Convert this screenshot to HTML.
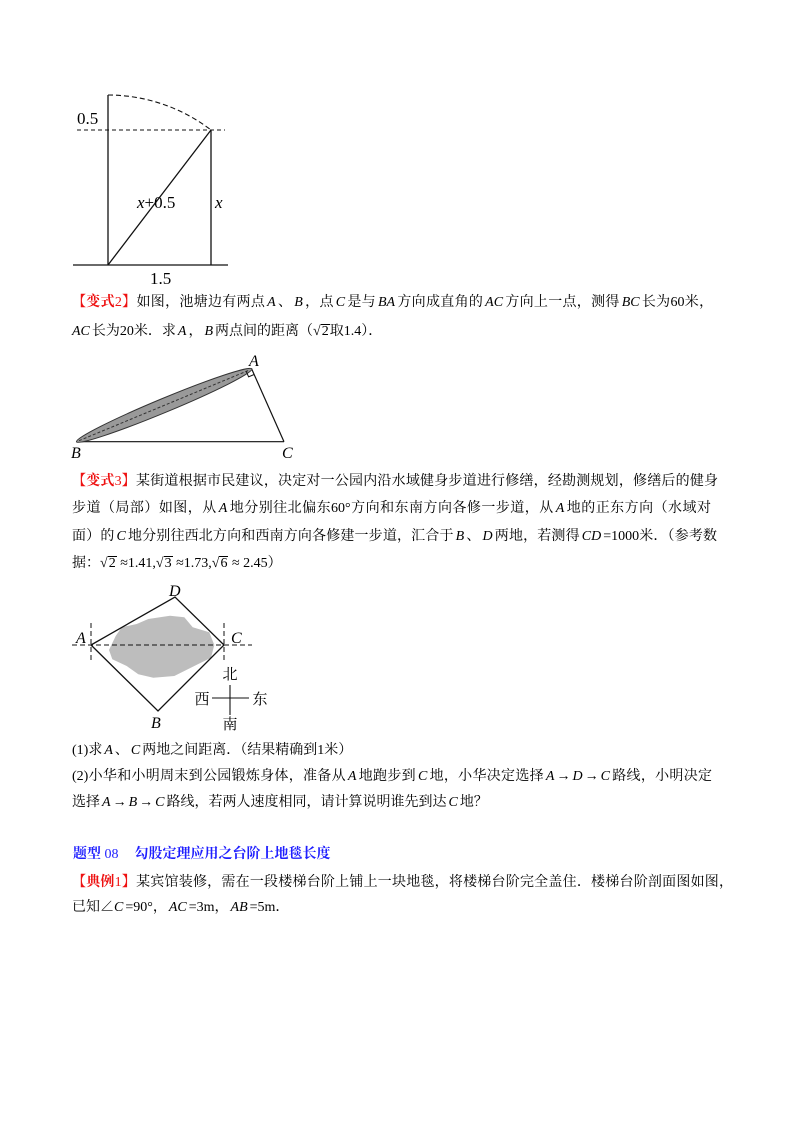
<!DOCTYPE html>
<html>
<head>
<meta charset="utf-8">
<style>
  html,body{margin:0;padding:0;background:#fff;}
  body{width:800px;height:1132px;position:relative;overflow:hidden;
       font-family:"Liberation Serif","Noto Serif CJK SC",serif;color:#000;}
  .ln{position:absolute;left:72px;font-size:14px;line-height:20px;height:20px;white-space:normal;}
  .j{text-align:justify;text-align-last:justify;}
  i{font-style:italic;font-family:"Liberation Serif",serif;margin:0 2px;}
  .red{color:#ee1111;}
  .b{font-weight:bold;}
  .blue{color:#1f1fff;}
  .rt{display:inline-block;}
  .ov{border-top:1px solid #000;padding:0 1px;line-height:14px;display:inline-block;}
  svg{position:absolute;left:0;top:0;}
  svg text{font-family:"Liberation Serif","Noto Serif CJK SC",serif;fill:#000;}
</style>
</head>
<body>
<svg width="800" height="1132" viewBox="0 0 800 1132">
  <!-- Figure 1 -->
  <g stroke="#111" stroke-width="1.3" fill="none">
    <line x1="108" y1="95" x2="108" y2="265"/>
    <line x1="211" y1="130" x2="211" y2="265"/>
    <line x1="73" y1="265" x2="228" y2="265"/>
    <line x1="108" y1="265" x2="211" y2="130"/>
    <line x1="77" y1="130" x2="225" y2="130" stroke-dasharray="4,3" stroke-width="1.1"/>
    <path d="M108,95 A170,170 0 0 1 211,130" stroke-dasharray="5,3" stroke-width="1.1"/>
  </g>
  <text x="77" y="124" font-size="17">0.5</text>
  <text x="137" y="208" font-size="17"><tspan font-style="italic">x</tspan>+0.5</text>
  <text x="215" y="208" font-size="17" font-style="italic">x</text>
  <text x="150" y="284" font-size="17">1.5</text>

  <!-- Figure 2 -->
  <g stroke="#111" stroke-width="1.2" fill="none">
    <line x1="77" y1="441.7" x2="284" y2="441.7"/>
    <line x1="251.7" y1="369" x2="284" y2="441.7"/>
  </g>
  <ellipse cx="164.2" cy="405.35" rx="95" ry="7" transform="rotate(-22.56 164.2 405.35)" fill="#999" stroke="#333" stroke-width="1"/>
  <line x1="79" y1="440.7" x2="249.5" y2="370" stroke="#333" stroke-width="1" stroke-dasharray="3,2"/>
  <polyline points="246.2,371.3 248.6,376.8 254.1,374.5" fill="none" stroke="#111" stroke-width="1"/>
  <text x="249" y="366" font-size="16" font-style="italic">A</text>
  <text x="71" y="458" font-size="16" font-style="italic">B</text>
  <text x="282" y="458" font-size="16" font-style="italic">C</text>

  <!-- Figure 3 -->
  <path d="M109,650 L115.7,636 L121.7,627.3 L136.7,624 L148.3,619 L170,615.7 L184.3,617.3 L192.7,627.3 L209.3,632.3 L214.3,645 L211,657.7 L194.3,666 L174.3,676 L153.3,677.7 L138.3,674.3 L126.7,666 L112.3,659.3 Z" fill="#bdbdbd"/>
  <g stroke="#111" stroke-width="1" fill="none" stroke-dasharray="5,3">
    <line x1="72" y1="645" x2="252" y2="645"/>
    <line x1="91" y1="623" x2="91" y2="660"/>
    <line x1="224" y1="623" x2="224" y2="660"/>
  </g>
  <polygon points="91,645 175,597 224,645 158,711" fill="none" stroke="#111" stroke-width="1.3"/>
  <text x="169" y="596" font-size="16" font-style="italic">D</text>
  <text x="76" y="643" font-size="16" font-style="italic">A</text>
  <text x="231" y="643" font-size="16" font-style="italic">C</text>
  <text x="151" y="728" font-size="16" font-style="italic">B</text>
  <g stroke="#111" stroke-width="1.1">
    <line x1="230" y1="685" x2="230" y2="715"/>
    <line x1="212" y1="698" x2="249" y2="698"/>
  </g>
  <text x="230" y="679" font-size="15" text-anchor="middle">北</text>
  <text x="202" y="704" font-size="15" text-anchor="middle">西</text>
  <text x="260" y="704" font-size="15" text-anchor="middle">东</text>
  <text x="230" y="729" font-size="15" text-anchor="middle">南</text>
</svg>

<div class="ln j" style="top:293px;width:641px;"><span class="red"><span class="b">【变式</span>2<span class="b">】</span></span>如图，池塘边有两点<i>A</i>、<i>B</i>，点<i>C</i>是与<i>BA</i>方向成直角的<i>AC</i>方向上一点，测得<i>BC</i>长为60米，</div>
<div class="ln" style="top:322px;"><i style="margin-left:0">AC</i>长为20米．求<i>A</i>，<i>B</i>两点间的距离（<span class="rt">√<span class="ov">2</span></span>取1.4）．</div>

<div class="ln j" style="top:472px;width:646px;"><span class="red"><span class="b">【变式</span>3<span class="b">】</span></span>某街道根据市民建议，决定对一公园内沿水域健身步道进行修缮，经勘测规划，修缮后的健身</div>
<div class="ln j" style="top:499px;width:639px;">步道（局部）如图，从<i>A</i>地分别往北偏东60°方向和东南方向各修一步道，从<i>A</i>地的正东方向（水域对</div>
<div class="ln j" style="top:527px;width:645px;">面）的<i>C</i>地分别往西北方向和西南方向各修建一步道，汇合于<i>B</i>、<i>D</i>两地，若测得<i>CD</i>=1000米．（参考数</div>
<div class="ln" style="top:554px;">据：<span class="rt">√<span class="ov">2</span></span> ≈1.41,<span class="rt">√<span class="ov">3</span></span> ≈1.73,<span class="rt">√<span class="ov">6</span></span> ≈ 2.45）</div>

<div class="ln" style="top:741px;">(1)求<i>A</i>、<i>C</i>两地之间距离．（结果精确到1米）</div>
<div class="ln j" style="top:767px;width:640px;">(2)小华和小明周末到公园锻炼身体，准备从<i>A</i>地跑步到<i>C</i>地，小华决定选择<i>A</i>→<i>D</i>→<i>C</i>路线，小明决定</div>
<div class="ln" style="top:793px;">选择<i>A</i>→<i>B</i>→<i>C</i>路线，若两人速度相同，请计算说明谁先到达<i>C</i>地？</div>

<div class="ln blue" style="top:845px;left:73px;"><span class="b">题型</span> 08<span style="display:inline-block;width:16px;"></span><span class="b">勾股定理应用之台阶上地毯长度</span></div>
<div class="ln j" style="top:873px;width:661px;"><span class="red b">【典例</span><span class="red">1</span><span class="red b">】</span>某宾馆装修，需在一段楼梯台阶上铺上一块地毯，将楼梯台阶完全盖住．楼梯台阶剖面图如图，</div>
<div class="ln" style="top:898px;">已知∠<i style="margin-left:0">C</i>=90°，<i>AC</i>=3m，<i>AB</i>=5m．</div>
</body>
</html>
